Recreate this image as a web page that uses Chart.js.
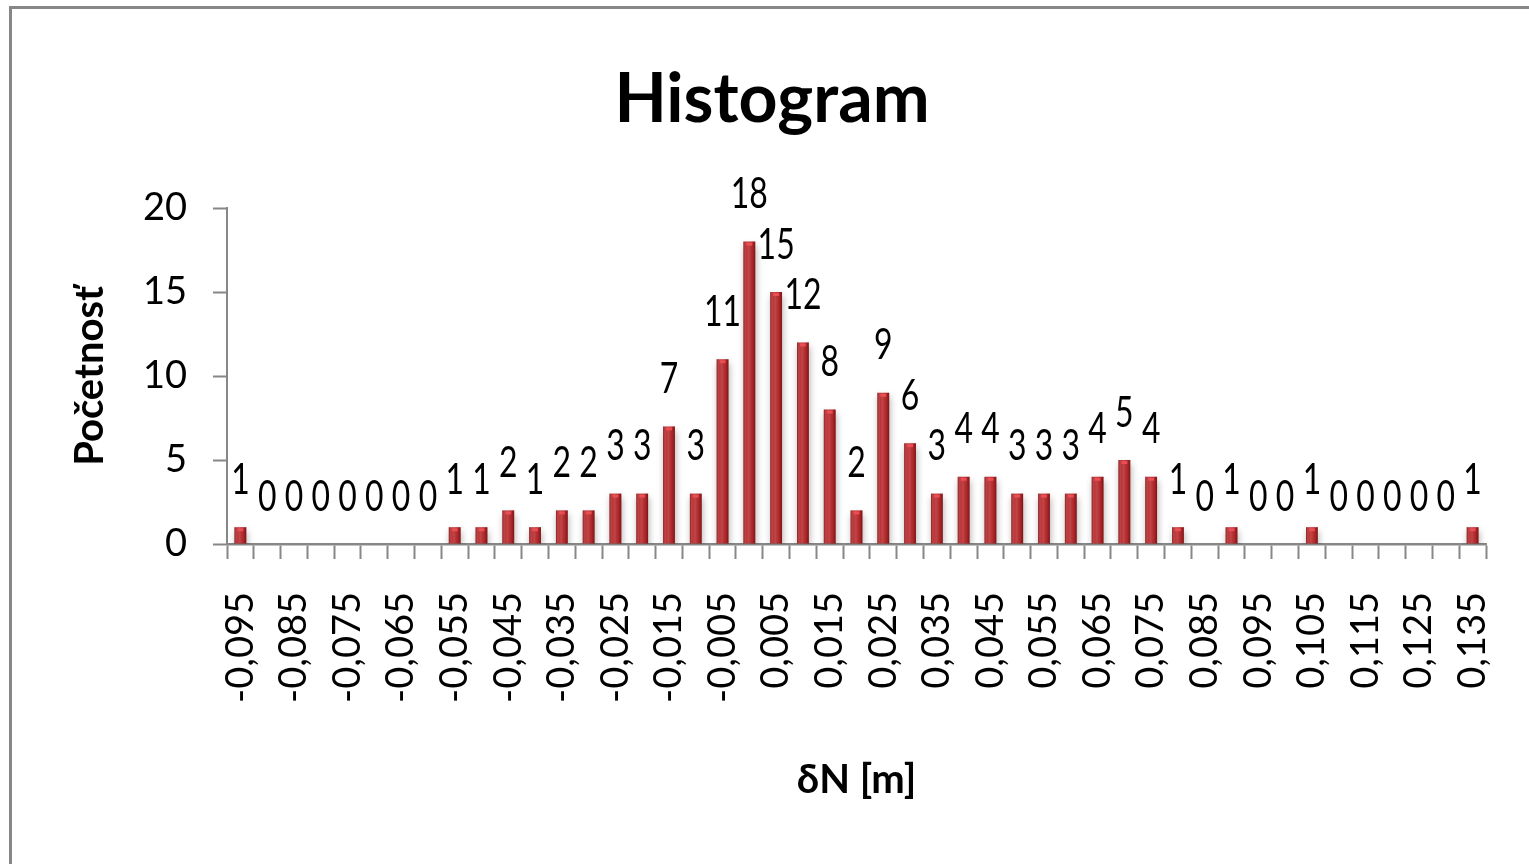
<!DOCTYPE html>
<html>
<head>
<meta charset="utf-8">
<title>Histogram</title>
<script src="https://cdn.jsdelivr.net/npm/chart.js@4/dist/chart.umd.min.js"></script>
<style>
  html, body { margin: 0; padding: 0; background: #ffffff; }
  #wrap { width: 1529px; height: 864px; }
</style>
</head>
<body>
<div id="wrap"><canvas id="histo" width="1529" height="864"></canvas></div>
<script>
// Class labels of the δN histogram (metres, decimal comma)
const categories = [
  "-0,095", "-0,090", "-0,085", "-0,080", "-0,075", "-0,070", "-0,065", "-0,060",
  "-0,055", "-0,050", "-0,045", "-0,040", "-0,035", "-0,030", "-0,025", "-0,020",
  "-0,015", "-0,010", "-0,005", "0,000", "0,005", "0,010", "0,015", "0,020",
  "0,025", "0,030", "0,035", "0,040", "0,045", "0,050", "0,055", "0,060",
  "0,065", "0,070", "0,075", "0,080", "0,085", "0,090", "0,095", "0,100",
  "0,105", "0,110", "0,115", "0,120", "0,125", "0,130", "0,135"
];

// Frequency of each class
const counts = [
  1, 0, 0, 0, 0, 0, 0, 0,
  1, 1, 2, 1, 2, 2, 3, 3,
  7, 3, 11, 18, 15, 12, 8, 2,
  9, 6, 3, 4, 4, 3, 3, 3,
  4, 5, 4, 1, 0, 1, 0, 0,
  1, 0, 0, 0, 0, 0, 1
];

// Value axis ticks
const yTicks = [0, 5, 10, 15, 20];

const AXIS_GRAY = '#878787';
const BAR_RED = '#B82B2E';

// Gray frame along the top and left edges of the chart
const framePlugin = {
  id: 'frame',
  beforeDraw(chart) {
    const ctx = chart.ctx;
    ctx.save();
    ctx.strokeStyle = AXIS_GRAY;
    ctx.lineWidth = 3;
    ctx.beginPath();
    ctx.moveTo(10.5, chart.height);
    ctx.lineTo(10.5, 7.5);
    ctx.lineTo(chart.width, 7.5);
    ctx.stroke();
    ctx.restore();
  }
};

// Soft drop shadow under the bars
const shadowPlugin = {
  id: 'barShadow',
  beforeDatasetDraw(chart) {
    const ctx = chart.ctx;
    ctx.save();
    ctx.shadowColor = 'rgba(0,0,0,0.30)';
    ctx.shadowBlur = 7;
    ctx.shadowOffsetX = 1;
    ctx.shadowOffsetY = 4;
  },
  afterDatasetDraw(chart) {
    chart.ctx.restore();
  }
};

// Cylinder-like shading and value labels above each bar
const barDecorPlugin = {
  id: 'barDecor',
  afterDatasetsDraw(chart) {
    const ctx = chart.ctx;
    const meta = chart.getDatasetMeta(0);
    const data = chart.data.datasets[0].data;
    meta.data.forEach((bar, i) => {
      const p = bar.getProps(['x', 'y', 'base', 'width'], true);
      const left = p.x - p.width / 2;
      const h = p.base - p.y;
      if (h > 0.5) {
        ctx.save();
        const g = ctx.createLinearGradient(left, 0, left + p.width, 0);
        g.addColorStop(0, 'rgba(70,0,0,0.45)');
        g.addColorStop(0.25, 'rgba(255,255,255,0.05)');
        g.addColorStop(0.45, 'rgba(255,255,255,0.12)');
        g.addColorStop(0.75, 'rgba(60,0,0,0.08)');
        g.addColorStop(1, 'rgba(70,0,0,0.5)');
        ctx.fillStyle = g;
        ctx.fillRect(left, p.y, p.width, h);
        // bright cap
        ctx.fillStyle = 'rgba(240,80,85,0.9)';
        ctx.fillRect(left + p.width * 0.25, p.y + 1, p.width * 0.5, Math.min(3, h - 1));
        ctx.restore();
      }
      // value label
      ctx.save();
      ctx.fillStyle = '#000';
      ctx.font = '42px Lato';
      ctx.textAlign = 'center';
      ctx.textBaseline = 'middle';
      ctx.translate(p.x, p.y - 47);
      ctx.scale(0.76, 1);
      ctx.fillText(String(data[i]), 0, 0);
      ctx.restore();
    });
  }
};

new Chart(document.getElementById('histo'), {
  type: 'bar',
  data: {
    labels: categories,
    datasets: [{
      data: counts,
      backgroundColor: BAR_RED,
      borderWidth: 0,
      categoryPercentage: 1.0,
      barPercentage: 0.44
    }]
  },
  options: {
    responsive: false,
    animation: false,
    events: [],
    layout: { padding: { left: 36, right: 21, top: 0, bottom: 40 } },
    plugins: {
      legend: { display: false },
      tooltip: { enabled: false },
      title: {
        display: true,
        text: 'Histogram',
        color: '#000',
        font: { family: 'Lato', size: 68, weight: 'bold', lineHeight: 1.2 },
        padding: { top: 59, bottom: 67.4 }
      }
    },
    scales: {
      x: {
        type: 'category',
        grid: {
          display: true,
          offset: true,
          drawOnChartArea: false,
          drawTicks: true,
          tickLength: 15,
          tickWidth: 2,
          tickColor: AXIS_GRAY
        },
        border: { display: true, color: AXIS_GRAY, width: 2.5 },
        ticks: {
          autoSkip: false,
          minRotation: 90,
          maxRotation: 90,
          padding: 33,
          color: '#000',
          font: { family: 'Lato', size: 38 },
          callback(value, index) {
            return index % 2 === 0 ? this.getLabelForValue(value) : '';
          }
        },
        title: {
          display: true,
          text: 'δN [m]',
          color: '#000',
          font: { family: 'Lato', size: 40, weight: 'bold', lineHeight: 1.2 },
          padding: { top: 0, bottom: 20 }
        },
        afterFit(scale) {
          scale.height = 280;
          scale.paddingLeft = 0;
          scale.paddingRight = 43;
        }
      },
      y: {
        min: 0,
        max: 20,
        grid: {
          display: true,
          drawOnChartArea: false,
          drawTicks: true,
          tickLength: 14,
          tickWidth: 2,
          tickColor: AXIS_GRAY
        },
        border: { display: true, color: AXIS_GRAY, width: 2 },
        afterBuildTicks(scale) {
          scale.ticks = yTicks.map(v => ({ value: v }));
        },
        ticks: {
          padding: 26,
          color: '#000',
          font: { family: 'Lato', size: 38 }
        },
        title: {
          display: true,
          text: 'Početnosť',
          color: '#000',
          font: { family: 'Lato', size: 40, weight: 'bold', lineHeight: 1.2 },
          padding: { top: 30, bottom: 0 }
        },
        afterFit(scale) { scale.width = 191; }
      }
    }
  },
  plugins: [framePlugin, shadowPlugin, barDecorPlugin]
});
</script>
</body>
</html>
